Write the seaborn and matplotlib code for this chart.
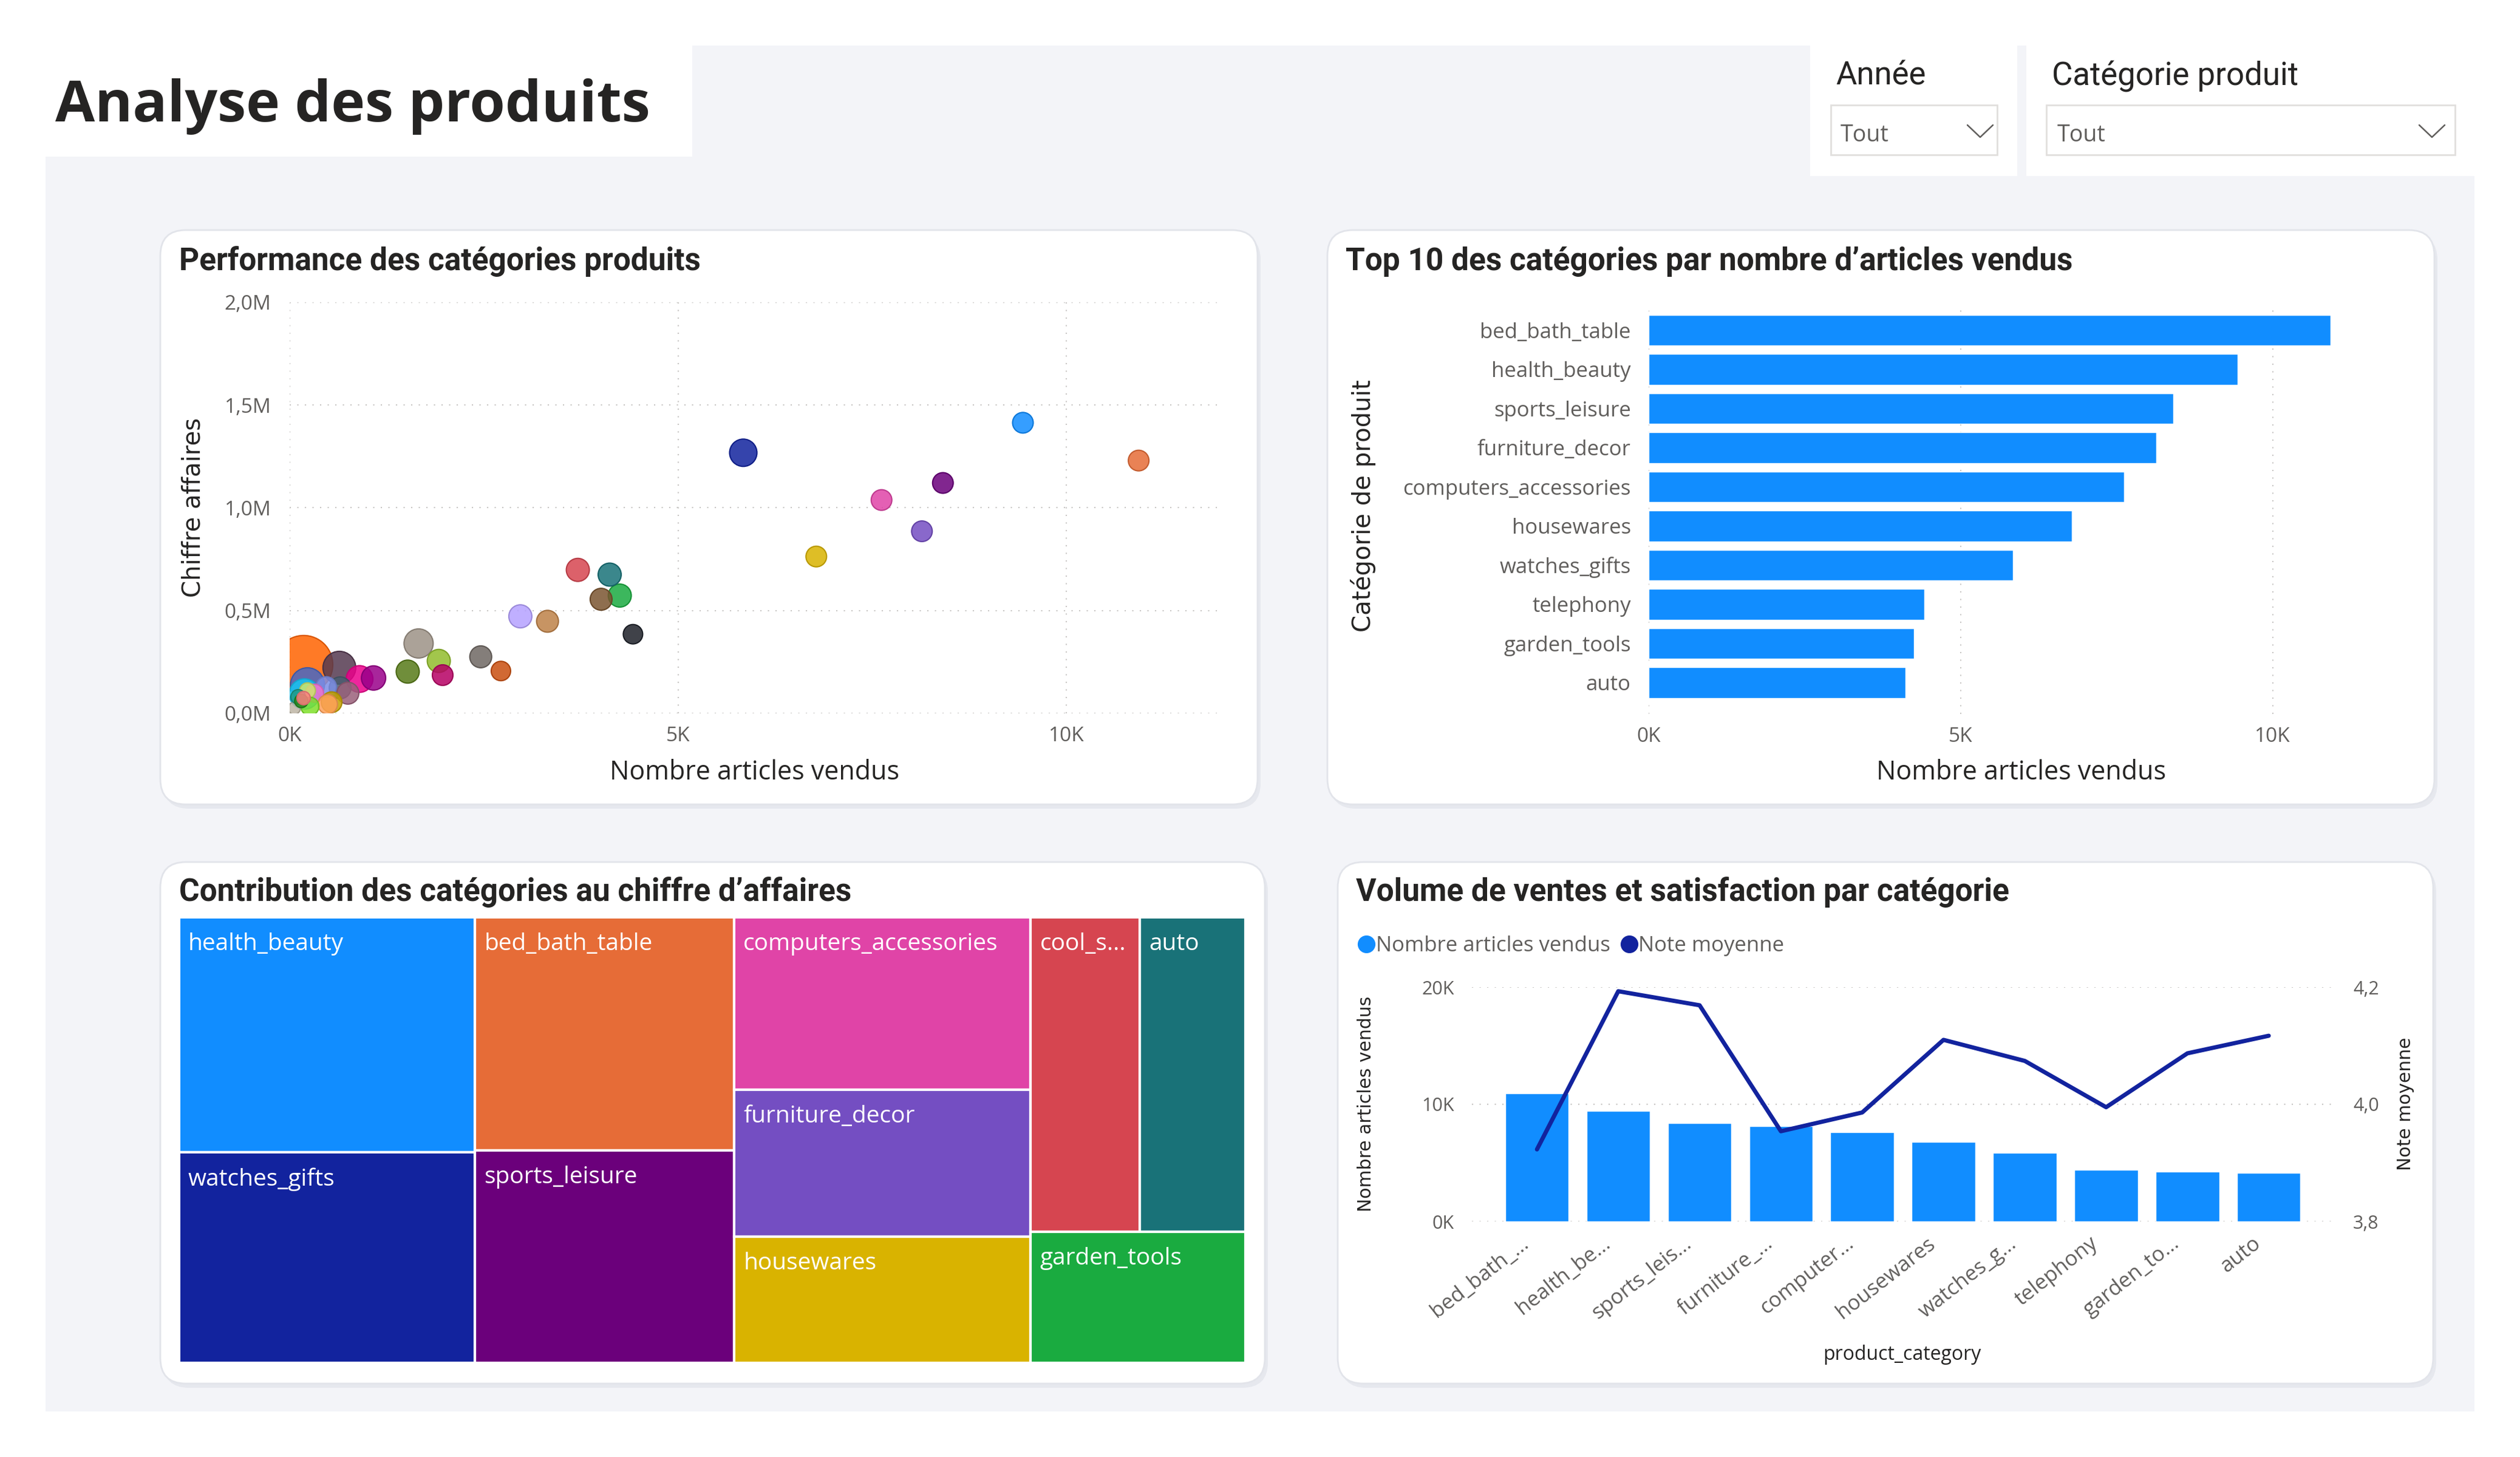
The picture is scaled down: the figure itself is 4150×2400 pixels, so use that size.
import numpy as np
import pandas as pd
import matplotlib
matplotlib.use("Agg")
import matplotlib.pyplot as plt
import matplotlib.transforms as mtransforms
import seaborn as sns
from matplotlib.patches import FancyBboxPatch, Rectangle
from matplotlib.lines import Line2D
from matplotlib.ticker import FuncFormatter, FixedLocator

# --- données (lues sur le tableau de bord) ---
# nuage de points : une ligne par catégorie
sc_cat = ["computers", "small_appliances", "home_appliances_2", "home_appliances",
          "musical_instruments", "consoles_games", "construction_tools_construction",
          "furniture_living_room", "home_construction", "furniture_bedroom", "audio",
          "air_conditioning", "kitchen_dining_laundry_garden_furniture",
          "industry_commerce_and_business", "agro_industry_and_commerce",
          "construction_tools_lights", "costruction_tools_garden", "market_place",
          "fashion_bags_accessories", "office_furniture", "pet_shop", "luggage_accessories",
          "electronics", "stationery", "perfumery", "baby", "cool_stuff", "garden_tools",
          "toys", "auto", "telephony", "watches_gifts", "housewares",
          "computers_accessories", "furniture_decor", "sports_leisure", "health_beauty",
          "bed_bath_table"]
sc_articles = [180, 640, 230, 190, 900, 1080, 650, 470, 750, 320, 230,
               540, 490, 260, 60, 110, 150, 180,
               1520, 1660, 1920, 1970, 2460, 2720, 2970, 3320, 3710, 4250,
               4010, 4120, 4420, 5840, 6780, 7620, 8140, 8410, 9440, 10930]
sc_ca = [237000, 222000, 139000, 94000, 167000, 172000, 124000, 128000, 98000, 98000, 110000,
         54000, 44000, 34000, 25000, 80000, 60000, 74000,
         203000, 340000, 255000, 186000, 275000, 206000, 472000, 448000, 698000, 573000,
         555000, 675000, 385000, 1268000, 763000, 1038000, 886000, 1121000, 1414000, 1230000]
sc_prix = [1100, 348, 374, 298, 231, 191, 155, 138, 155, 107, 81,
           138, 122, 107, 48, 69, 58, 58,
           172, 275, 172, 138, 155, 122, 172, 155, 172, 172,
           155, 172, 122, 242, 138, 138, 138, 138, 138, 138]

# note moyenne des 10 catégories les plus vendues
note_cat = ["bed_bath_table", "health_beauty", "sports_leisure", "furniture_decor",
            "computers_accessories", "housewares", "watches_gifts", "telephony",
            "garden_tools", "auto"]
note_moyenne = [3.923, 4.193, 4.169, 3.954, 3.986, 4.110, 4.074, 3.995, 4.087, 4.117]
note_labels = ["bed_bath_...", "health_be...", "sports_leis...", "furniture_...",
               "computer...", "housewares", "watches_g...", "telephony",
               "garden_to...", "auto"]

palette = {
    "health_beauty": "#118DFF", "watches_gifts": "#12239E", "bed_bath_table": "#E66C37",
    "sports_leisure": "#6B007B", "computers_accessories": "#E044A7",
    "furniture_decor": "#744EC2", "housewares": "#D9B300", "cool_stuff": "#D64550",
    "auto": "#197278", "garden_tools": "#1AAB40", "computers": "#FF6300",
    "small_appliances": "#553A50", "home_appliances_2": "#4668C5",
    "home_appliances": "#15C6F4", "musical_instruments": "#EC008C",
    "consoles_games": "#99008A", "construction_tools_construction": "#4A5E70",
    "furniture_living_room": "#7C8EE6", "home_construction": "#9A607A",
    "furniture_bedroom": "#F472D0", "audio": "#D0E66A", "air_conditioning": "#C4A200",
    "kitchen_dining_laundry_garden_furniture": "#FFA058",
    "industry_commerce_and_business": "#7FE02A", "agro_industry_and_commerce": "#BDB5A5",
    "construction_tools_lights": "#1F9A85", "costruction_tools_garden": "#25891C",
    "market_place": "#FF8080", "fashion_bags_accessories": "#577A18",
    "office_furniture": "#9C9286", "pet_shop": "#92BC2C", "luggage_accessories": "#B60064",
    "electronics": "#6E6763", "stationery": "#C94F0F", "perfumery": "#B5A1FF",
    "baby": "#BE8248", "toys": "#7A5530", "telephony": "#1E2129",
}

TXT = "#252423"
GTXT = "#605E5C"
BLEU = "#118DFF"
MARINE = "#12239E"
GRID = dict(color="#C8C6C4", ls=(0, (1, 5)), lw=1.5)

df = pd.DataFrame({"categorie": sc_cat, "articles": sc_articles,
                   "ca": sc_ca, "prix": sc_prix})
top10 = df.nlargest(10, "articles").reset_index(drop=True)
notes = pd.DataFrame({"categorie": note_cat, "note": note_moyenne})
top10 = top10.merge(notes, on="categorie", how="left")
top_ca = df.nlargest(10, "ca").reset_index(drop=True)

sns.set_theme(style="white")
plt.rcParams["font.family"] = ["Open Sans", "DejaVu Sans"]

W, H = 4150, 2400
fig = plt.figure(figsize=(W / 100, H / 100), dpi=100)
bg = fig.add_axes([0, 0, 1, 1], zorder=-5)
bg.set_xlim(0, W)
bg.set_ylim(H, 0)
bg.axis("off")


def zone(x0, y0, x1, y1):
    return [x0 / W, 1 - y1 / H, (x1 - x0) / W, (y1 - y0) / H]


# fond de page
bg.add_patch(Rectangle((75, 75), 4000, 2250, fc="#F3F4F8", ec="none"))
bg.add_patch(Rectangle((75, 75), 1065, 183, fc="white", ec="none"))
bg.add_patch(Rectangle((2981, 75), 341, 215, fc="white", ec="none"))
bg.add_patch(Rectangle((3337, 75), 738, 215, fc="white", ec="none"))

bg.text(91, 200, "Analyse des produits", fontsize=68, fontweight="bold",
        color=TXT, va="baseline", family=["Open Sans", "DejaVu Sans"])

# filtres
bg.text(3023, 140, "Année", fontsize=38, color=TXT, family=["Roboto", "DejaVu Sans"])
bg.text(3379, 140, "Catégorie produit", fontsize=38, color=TXT,
        family=["Roboto", "DejaVu Sans"])
for (x0, x1, xt, xc) in [(3015, 3289, 3031, 3240), (3370, 4043, 3388, 3984)]:
    bg.add_patch(Rectangle((x0, 173), x1 - x0, 82, fc="white", ec="#E1DFDD", lw=2))
    bg.text(xt, 233, "Tout", fontsize=27, color=GTXT)
    bg.plot([xc, xc + 21, xc + 42], [206, 226, 206], color=GTXT, lw=1.8)

# cartes
panneaux = [(264, 379, 2071, 1325), (2186, 379, 4009, 1325),
            (264, 1420, 2083, 2279), (2203, 1420, 4007, 2279)]
for (x0, y0, x1, y1) in panneaux:
    bg.add_patch(FancyBboxPatch((x0 + 5, y0 + 7), x1 - x0, y1 - y0,
                                boxstyle="round,pad=0,rounding_size=42",
                                fc="#E6E8EE", ec="none"))
    bg.add_patch(FancyBboxPatch((x0, y0), x1 - x0, y1 - y0,
                                boxstyle="round,pad=0,rounding_size=42",
                                fc="white", ec="#E2E4EA", lw=2))

titre_kw = dict(fontsize=37, fontweight="bold", color=TXT, va="baseline",
                family=["Roboto", "DejaVu Sans"])
bg.text(295, 445, "Performance des catégories produits", **titre_kw)
bg.text(2216, 445, "Top 10 des catégories par nombre d’articles vendus", **titre_kw)
bg.text(295, 1484, "Contribution des catégories au chiffre d’affaires", **titre_kw)
bg.text(2233, 1484, "Volume de ventes et satisfaction par catégorie", **titre_kw)

axe_kw = dict(fontsize=29, color=TXT, rotation=90, ha="center", va="center",
              family=["DejaVu Sans"])

# 1. nuage de points
ax1 = fig.add_axes(zone(477, 498, 2012, 1175))
ax1.set_facecolor("none")
sns.scatterplot(data=df, x="articles", y="ca", hue="categorie", palette=palette,
                size="prix", sizes=(0, 4780), size_norm=(0, 1100),
                legend=False, linewidth=1.5, ax=ax1)
pts = ax1.collections[0]
fc = np.array(pts.get_facecolors())
ec = fc.copy()
ec[:, :3] *= 0.85
ec[:, 3] = 1.0
fc[:, 3] = 0.85
pts.set_facecolors(fc)
pts.set_edgecolors(ec)
ax1.set_xlim(0, 12000)
ax1.set_ylim(0, 2.0e6)
ax1.xaxis.set_major_locator(FixedLocator([0, 5000, 10000]))
ax1.yaxis.set_major_locator(FixedLocator([0, 5e5, 1e6, 1.5e6, 2e6]))
ax1.xaxis.set_major_formatter(FuncFormatter(lambda v, p: f"{v / 1000:.0f}K"))
ax1.yaxis.set_major_formatter(
    FuncFormatter(lambda v, p: f"{v / 1e6:.1f}M".replace(".", ",")))
ax1.grid(True, **GRID)
ax1.set_axisbelow(True)
ax1.tick_params(length=0, labelsize=24, labelcolor=GTXT)
ax1.tick_params(axis="x", pad=15)
ax1.tick_params(axis="y", pad=22)
ax1.set_xlabel("")
ax1.set_ylabel("")
sns.despine(ax=ax1, left=True, bottom=True)
bg.text(1243, 1284, "Nombre articles vendus", fontsize=31, color=TXT,
        ha="center", va="baseline")
bg.text(318, 836, "Chiffre affaires", **axe_kw)

# 2. top 10 en barres horizontales
ax2 = fig.add_axes(zone(2715, 502, 3948, 1176))
ax2.set_facecolor("none")
sns.barplot(data=top10, x="articles", y="categorie", color=BLEU, saturation=1,
            width=0.78, ax=ax2)
ax2.set_xlim(0, 12000)
ax2.set_ylim(9.8, -0.65)
ax2.xaxis.set_major_locator(FixedLocator([0, 5000, 10000]))
ax2.xaxis.set_major_formatter(FuncFormatter(lambda v, p: f"{v / 1000:.0f}K"))
ax2.grid(True, axis="x", **GRID)
ax2.grid(False, axis="y")
ax2.set_axisbelow(True)
ax2.tick_params(length=0, labelcolor=GTXT)
ax2.tick_params(axis="x", labelsize=24, pad=15)
ax2.tick_params(axis="y", labelsize=25, pad=21)
ax2.set_xlabel("")
ax2.set_ylabel("")
sns.despine(ax=ax2, left=True, bottom=True)
bg.text(3329, 1284, "Nombre articles vendus", fontsize=31, color=TXT,
        ha="center", va="baseline")
bg.text(2245, 833, "Catégorie de produit", **axe_kw)


# 3. treemap (squarify à la d3, ratio d'or)
def squarify(values, x0, y0, x1, y1, ratio=(1 + 5 ** 0.5) / 2):
    rects = []
    total = float(sum(values))
    i0, n = 0, len(values)
    while i0 < n:
        dx, dy = x1 - x0, y1 - y0
        s = values[i0]
        i1 = i0 + 1
        vmin = vmax = s
        alpha = max(dy / dx, dx / dy) / (total * ratio)
        beta = s * s * alpha
        best = max(vmax / beta, beta / vmin)
        while i1 < n:
            v = values[i1]
            s2 = s + v
            beta = s2 * s2 * alpha
            r = max(max(vmax, v) / beta, beta / min(vmin, v))
            if r > best:
                break
            best, s = r, s2
            vmin, vmax = min(vmin, v), max(vmax, v)
            i1 += 1
        row = values[i0:i1]
        if dx < dy:
            yb = y0 + dy * s / total
            xx = x0
            for v in row:
                w = dx * v / s
                rects.append((xx, y0, w, yb - y0))
                xx += w
            y0 = yb
        else:
            xb = x0 + dx * s / total
            yy = y0
            for v in row:
                h = dy * v / s
                rects.append((x0, yy, xb - x0, h))
                yy += h
            x0 = xb
        total -= s
        i0 = i1
    return rects


TW, TH = 2051 - 295, 2245 - 1511
ax3 = fig.add_axes(zone(295, 1511, 2051, 2245))
ax3.set_xlim(0, TW)
ax3.set_ylim(TH, 0)
ax3.axis("off")
rects = squarify(list(top_ca["ca"]), 0, 0, TW, TH)
renderer = fig.canvas.get_renderer()
for (x, y, w, h), cat in zip(rects, top_ca["categorie"]):
    ax3.add_patch(Rectangle((x, y), w, h, fc=palette[cat], ec="white", lw=3))
    t = ax3.text(x + 15, y + 25, cat, color="white", fontsize=28, va="top", ha="left")
    k = len(cat)
    while t.get_window_extent(renderer).width > w - 30 and k > 1:
        k -= 1
        t.set_text(cat[:k] + "...")

# 4. barres + ligne
ax4 = fig.add_axes(zone(2424, 1626, 3846, 2012))
ax4.set_facecolor("none")
sns.barplot(data=top10, x="categorie", y="articles", color=BLEU, saturation=1,
            width=0.78, ax=ax4)
ax4.set_ylim(0, 20000)
ax4.yaxis.set_major_locator(FixedLocator([0, 10000, 20000]))
ax4.yaxis.set_major_formatter(FuncFormatter(lambda v, p: f"{v / 1000:.0f}K"))
ax4.set_xticks(range(len(note_labels)))
ax4.set_xticklabels(note_labels, rotation=38, ha="right", rotation_mode="anchor")
ax4.grid(True, axis="y", **GRID)
ax4.grid(False, axis="x")
ax4.set_axisbelow(True)
ax4.tick_params(length=0, labelcolor=GTXT)
ax4.tick_params(axis="y", labelsize=22, pad=21)
ax4.tick_params(axis="x", labelsize=25, pad=14)
decal = mtransforms.ScaledTranslation(-0.28, 0, fig.dpi_scale_trans)
for lbl in ax4.get_xticklabels():
    lbl.set_transform(lbl.get_transform() + decal)
ax4.set_xlabel("")
ax4.set_ylabel("")
ax5 = ax4.twinx()
sns.lineplot(x=np.arange(len(top10)), y=top10["note"], color=MARINE, lw=5,
             ax=ax5, sort=False)
ax5.set_ylim(3.8, 4.2)
ax5.yaxis.set_major_locator(FixedLocator([3.8, 4.0, 4.2]))
ax5.yaxis.set_major_formatter(FuncFormatter(lambda v, p: f"{v:.1f}".replace(".", ",")))
ax5.tick_params(length=0, labelsize=22, labelcolor=GTXT, pad=21)
ax5.set_ylabel("")
ax5.grid(False)
ax4.set_xlim(-0.8, 9.82)
for a in (ax4, ax5):
    for sp in a.spines.values():
        sp.set_visible(False)
leg_handles = [Line2D([], [], marker="o", ls="", color=BLEU, ms=20),
               Line2D([], [], marker="o", ls="", color=MARINE, ms=20)]
ax4.legend(leg_handles, ["Nombre articles vendus", "Note moyenne"], ncol=2,
           loc="center left", bbox_to_anchor=(2236 / W, 1 - 1558 / H),
           bbox_transform=fig.transFigure, frameon=False, fontsize=25,
           labelcolor=GTXT, handletextpad=0.05, columnspacing=0.5,
           handlelength=0.8, borderpad=0, borderaxespad=0)
bg.text(3132, 2240, "product_category", fontsize=23, color=TXT,
        ha="center", va="baseline")
bg.text(2249, 1818, "Nombre articles vendus", fontsize=21.5, color=TXT, rotation=90,
        ha="center", va="center", family=["DejaVu Sans"])
bg.text(3962, 1818, "Note moyenne", fontsize=21.5, color=TXT, rotation=90,
        ha="center", va="center", family=["DejaVu Sans"])

fig.savefig("out.png", dpi=100, facecolor="white")
